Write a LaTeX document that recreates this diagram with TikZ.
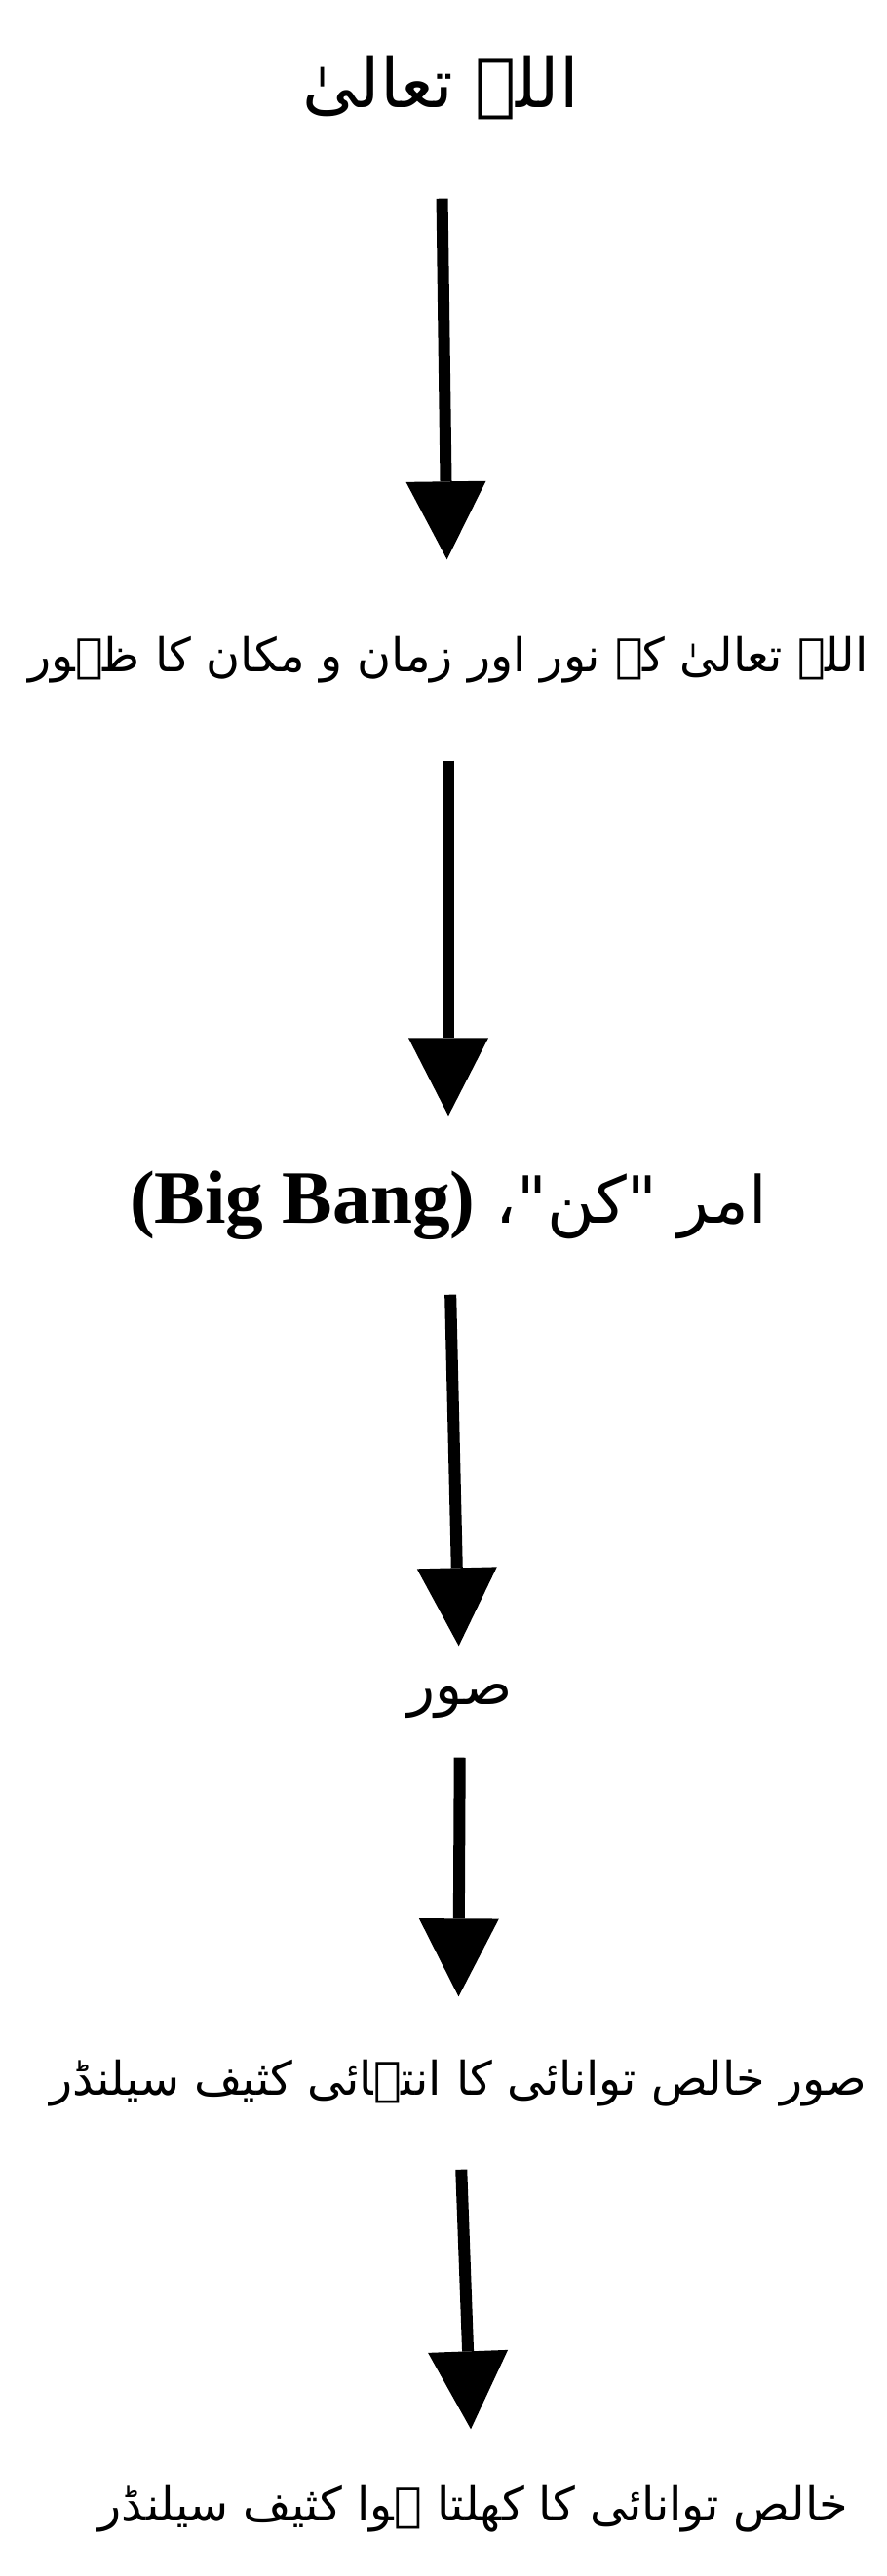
\documentclass[tikz,border=0pt]{standalone}
\usepackage{fontspec}
\usetikzlibrary{arrows.meta}
\newfontfamily\urdufont[Script=Arabic]{DejaVu Sans}
\newfontfamily\latinfont{Liberation Serif}
\TeXXeTstate=1

\begin{document}
\begin{tikzpicture}[
  stage/.style={inner sep=0pt, font=\urdufont\fontsize{13.6}{16}\selectfont},
  flow/.style={line width=0.12cm, -{Triangle[width=0.82cm,length=0.8cm,line width=0pt]}}
]
\useasboundingbox (0,0) rectangle (9.1,-26.44);

\node[stage, minimum height=2.26cm, font=\urdufont\fontsize{20}{24}\selectfont] (allah) at (4.52,-0.9) {\beginR اللہ تعالیٰ\endR};
\node[stage, minimum height=2.05cm] (noor) at (4.60,-6.775) {\beginR اللہ تعالیٰ کے نور اور زمان و مکان کا ظہور\endR};
\node[stage, minimum height=1.82cm, font=\urdufont\fontsize{19}{22}\selectfont] (kun) at (4.60,-12.37) {\beginR امر "کن"، \beginL{\latinfont\bfseries\fontsize{22}{26}\selectfont(Big Bang)}\endL\endR};
\node[stage, minimum height=1.13cm, font=\urdufont\fontsize{16.5}{20}\selectfont] (soor) at (4.72,-17.465) {\beginR صور\endR};
\node[stage, minimum height=1.76cm] (dense) at (4.70,-21.38) {\beginR صور خالص توانائی کا انتہائی کثیف سیلنڈر\endR};
\node[stage, minimum height=1.62cm] (open) at (4.86,-25.75) {\beginR خالص توانائی کا کھلتا ہوا کثیف سیلنڈر\endR};

\draw[flow] (allah) -- (noor);
\draw[flow] (noor) -- (kun);
\draw[flow] (kun) -- (soor);
\draw[flow] (soor) -- (dense);
\draw[flow] (dense) -- (open);
\end{tikzpicture}
\end{document}
